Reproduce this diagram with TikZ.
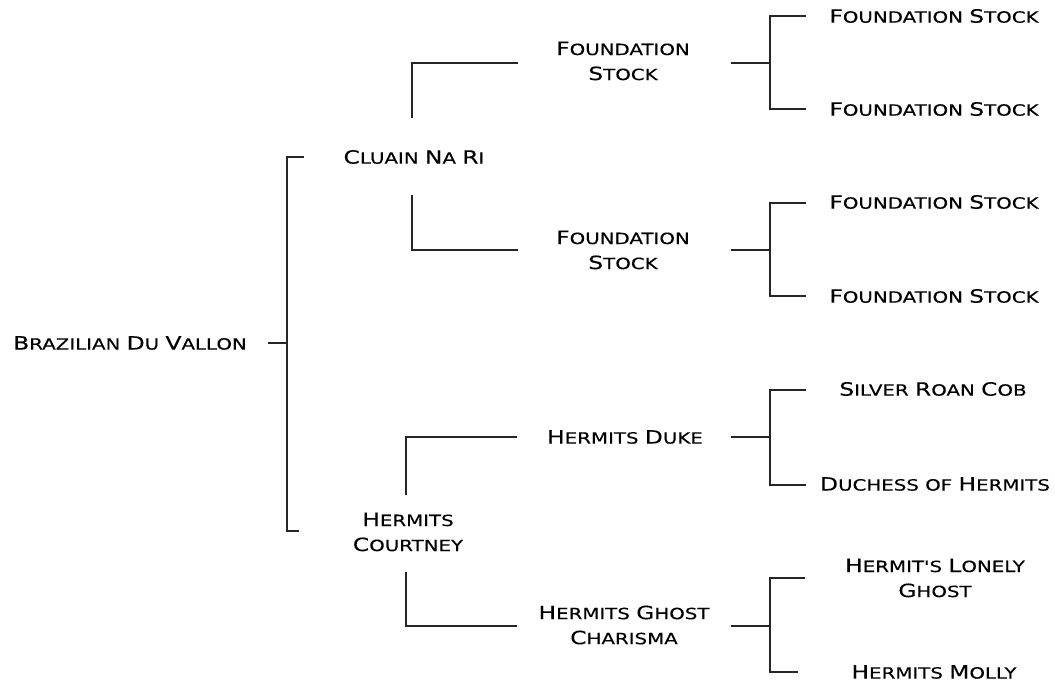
\documentclass[tikz,border=0pt]{standalone}
\usepackage{fontspec}
\newfontfamily\cpfont[FakeStretch=1.28,FakeBold=0.2]{DejaVu Sans}
\newcommand{\ini}[1]{{\fontsize{13}{17.8}\selectfont #1}}
\tikzset{
  horse/.style={font=\cpfont\fontsize{11}{17.8}\selectfont, align=center, inner sep=0pt, text=black},
  line/.style={draw=black!85, line width=0.9pt}
}
\begin{document}
\begin{tikzpicture}[x=0.025cm, y=-0.025cm]
\useasboundingbox (0,0) rectangle (1055,686);

% sire and dam
\node[horse] (Brazilian) at (130,343) {\ini{B}RAZILIAN \ini{D}U \ini{V}ALLON};
\node[horse] (Cluain) at (414,157) {\ini{C}LUAIN \ini{N}A \ini{R}I};
\node[horse] (Courtney) at (408,532) {\ini{H}ERMITS\\\ini{C}OURTNEY};

% grandparents
\node[horse] (Found 1) at (623,61) {\ini{F}OUNDATION\\\ini{S}TOCK};
\node[horse] (Found 2) at (623,250) {\ini{F}OUNDATION\\\ini{S}TOCK};
\node[horse] (Duke) at (625,437) {\ini{H}ERMITS \ini{D}UKE};
\node[horse] (Ghost) at (624,625) {\ini{H}ERMITS \ini{G}HOST\\\ini{C}HARISMA};

% great-grandparents
\node[horse] (Found 11) at (934,16) {\ini{F}OUNDATION \ini{S}TOCK};
\node[horse] (Found 12) at (934,109) {\ini{F}OUNDATION \ini{S}TOCK};
\node[horse] (Found 21) at (934,202) {\ini{F}OUNDATION \ini{S}TOCK};
\node[horse] (Found 22) at (934,296) {\ini{F}OUNDATION \ini{S}TOCK};
\node[horse] (Silver) at (933,389) {\ini{S}ILVER \ini{R}OAN \ini{C}OB};
\node[horse] (Duchess) at (935,484) {\ini{D}UCHESS OF \ini{H}ERMITS};
\node[horse] (Lonely) at (935,578) {\ini{H}ERMIT'S \ini{L}ONELY\\\ini{G}HOST};
\node[horse] (Molly) at (934,672) {\ini{H}ERMITS \ini{M}OLLY};

% connector ends
\coordinate (Brazilian out) at (268,343);
\coordinate (Cluain in) at (304,157);
\coordinate (Courtney in) at (299,531);
\coordinate (Cluain up) at (412,118);
\coordinate (Cluain down) at (412,195);
\coordinate (Courtney up) at (406,495);
\coordinate (Courtney down) at (406,572);
\coordinate (Found 1 in) at (518,63);
\coordinate (Found 2 in) at (518,250);
\coordinate (Duke in) at (517,437);
\coordinate (Ghost in) at (517,626);
\coordinate (Found 1 out) at (731,63);
\coordinate (Found 2 out) at (731,250);
\coordinate (Duke out) at (731,437);
\coordinate (Ghost out) at (731,626);
\coordinate (Found 11 in) at (806,16);
\coordinate (Found 12 in) at (806,109);
\coordinate (Found 21 in) at (806,203);
\coordinate (Found 22 in) at (806,296);
\coordinate (Silver in) at (806,390);
\coordinate (Duchess in) at (806,485);
\coordinate (Lonely in) at (805,578);
\coordinate (Molly in) at (798,672);

\draw[line] (Brazilian out) -- (287,343) |- (Cluain in);
\draw[line] (287,343) |- (Courtney in);

\draw[line] (Cluain up) |- (Found 1 in);
\draw[line] (Cluain down) |- (Found 2 in);
\draw[line] (Courtney up) |- (Duke in);
\draw[line] (Courtney down) |- (Ghost in);

\draw[line] (Found 1 out) -- (770,63) |- (Found 11 in);
\draw[line] (770,63) |- (Found 12 in);
\draw[line] (Found 2 out) -- (770,250) |- (Found 21 in);
\draw[line] (770,250) |- (Found 22 in);
\draw[line] (Duke out) -- (770,437) |- (Silver in);
\draw[line] (770,437) |- (Duchess in);
\draw[line] (Ghost out) -- (770,626) |- (Lonely in);
\draw[line] (770,626) |- (Molly in);

\end{tikzpicture}
\end{document}
